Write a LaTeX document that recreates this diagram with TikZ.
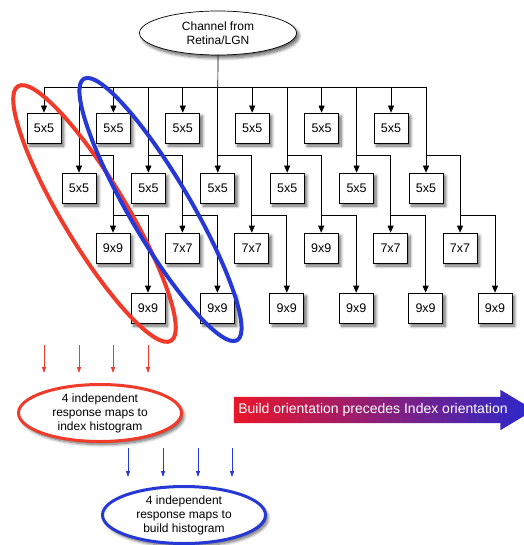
\documentclass[tikz,border=0pt]{standalone}
\usepackage{fontspec}
\setmainfont{Liberation Sans}
\usepackage{xcolor}
\usetikzlibrary{arrows.meta,shapes.geometric,shapes.arrows,shadows.blur}

\definecolor{indexred}{RGB}{240,58,42}
\definecolor{buildblue}{RGB}{38,56,214}
\definecolor{arrowred}{RGB}{234,22,42}
\definecolor{arrowblue}{RGB}{40,40,205}

\begin{document}
\begin{tikzpicture}[x=1pt,y=-1pt,>={Triangle[length=7pt,width=6pt]},
  softshadow/.style={blur shadow={shadow xshift=2.5pt,shadow yshift=-3pt,shadow opacity=60,shadow blur steps=8,shadow blur radius=3pt}},
  filt/.style={draw,fill=white,line width=0.7pt,minimum width=34pt,minimum height=30pt,
    inner sep=0pt,font=\fontsize{12.5}{14}\selectfont,softshadow},
  wire/.style={line width=0.7pt},
  feed/.style={line width=0.8pt,draw=#1,-{Triangle[length=6pt,width=4pt]}},
  histo/.style={ellipse,draw=#1,line width=3pt,fill=white,inner sep=0pt,align=center,
    minimum width=163pt,minimum height=57pt,font=\fontsize{12}{14}\selectfont,softshadow},
  loop/.style={ellipse,draw=#1,line width=4pt,inner sep=0pt}]
  \useasboundingbox (0,0) rectangle (523,545);

  % input channel
  \node[ellipse,draw,fill=white,line width=0.7pt,inner sep=0pt,minimum width=157pt,
    minimum height=44pt,align=center,font=\fontsize{12}{14}\selectfont,softshadow]
    (src) at (218,33) {Channel from\\Retina/LGN};

  % filter cascade, one column group per orientation
  \foreach \i in {0,...,5} {
    \node[filt] (a\i) at (44+69.4*\i,128) {5x5};
    \node[filt] (b\i) at (79+69.4*\i,188) {5x5};
    \node[filt] (d\i) at (148+69.4*\i,308) {9x9};
  }
  \foreach \i/\k in {0/9x9,1/7x7,2/7x7,3/9x9,4/7x7,5/7x7}
    \node[filt] (c\i) at (113+69.4*\i,248) {\k};

  \coordinate (bus) at (0,87);
  \draw[wire] (src.south) -- (b2 |- bus);
  \draw[wire] (a0 |- bus) -- (b5 |- bus);
  \foreach \i in {0,...,5} {
    \draw[wire,->] (a\i |- bus) -- (a\i.north);
    \draw[wire,->] (b\i |- bus) -- (b\i.north);
    \draw[wire,->] (b\i.north) ++(0,-17) -| (c\i.north);
    \draw[wire,->] (c\i.north) ++(0,-17) -| (d\i.north);
  }

  % grouped responses
  \node[loop=indexred,minimum width=297pt,minimum height=64pt,rotate=-59]
    (indexloop) at (94.5,213.5) {};
  \node[loop=buildblue,minimum width=303pt,minimum height=61pt,rotate=-59.6]
    (buildloop) at (160.5,209.5) {};

  \node[histo=indexred] (indexhist) at (100,413)
    {4 independent\\response maps to\\index histogram};
  \node[histo=buildblue] (buildhist) at (184,515)
    {4 independent\\response maps to\\build histogram};

  \foreach \p [count=\j] in {a0,b0,c0,d0} {
    \coordinate (rtop\j) at (\p |- 0,345);
    \coordinate (rend\j) at (\p |- 0,373);
    \draw[feed=indexred] (rtop\j) -- (rend\j);
  }
  \foreach \x [count=\j] in {128,163,198,232} {
    \coordinate (btop\j) at (\x,448);
    \coordinate (bend\j) at (\x,477);
    \draw[feed=buildblue] (btop\j) -- (bend\j);
  }

  % order of the two stages
  \node[single arrow,shading=axis,left color=arrowred,right color=arrowblue,
    minimum height=300pt,single arrow head extend=7pt,single arrow tip angle=62,
    inner xsep=0pt,inner ysep=6.5pt,text height=10pt,text depth=3pt,
    text=white,font=\fontsize{14}{16}\selectfont]
    (order) at (373,410) {Build orientation precedes Index orientation};
\end{tikzpicture}
\end{document}
